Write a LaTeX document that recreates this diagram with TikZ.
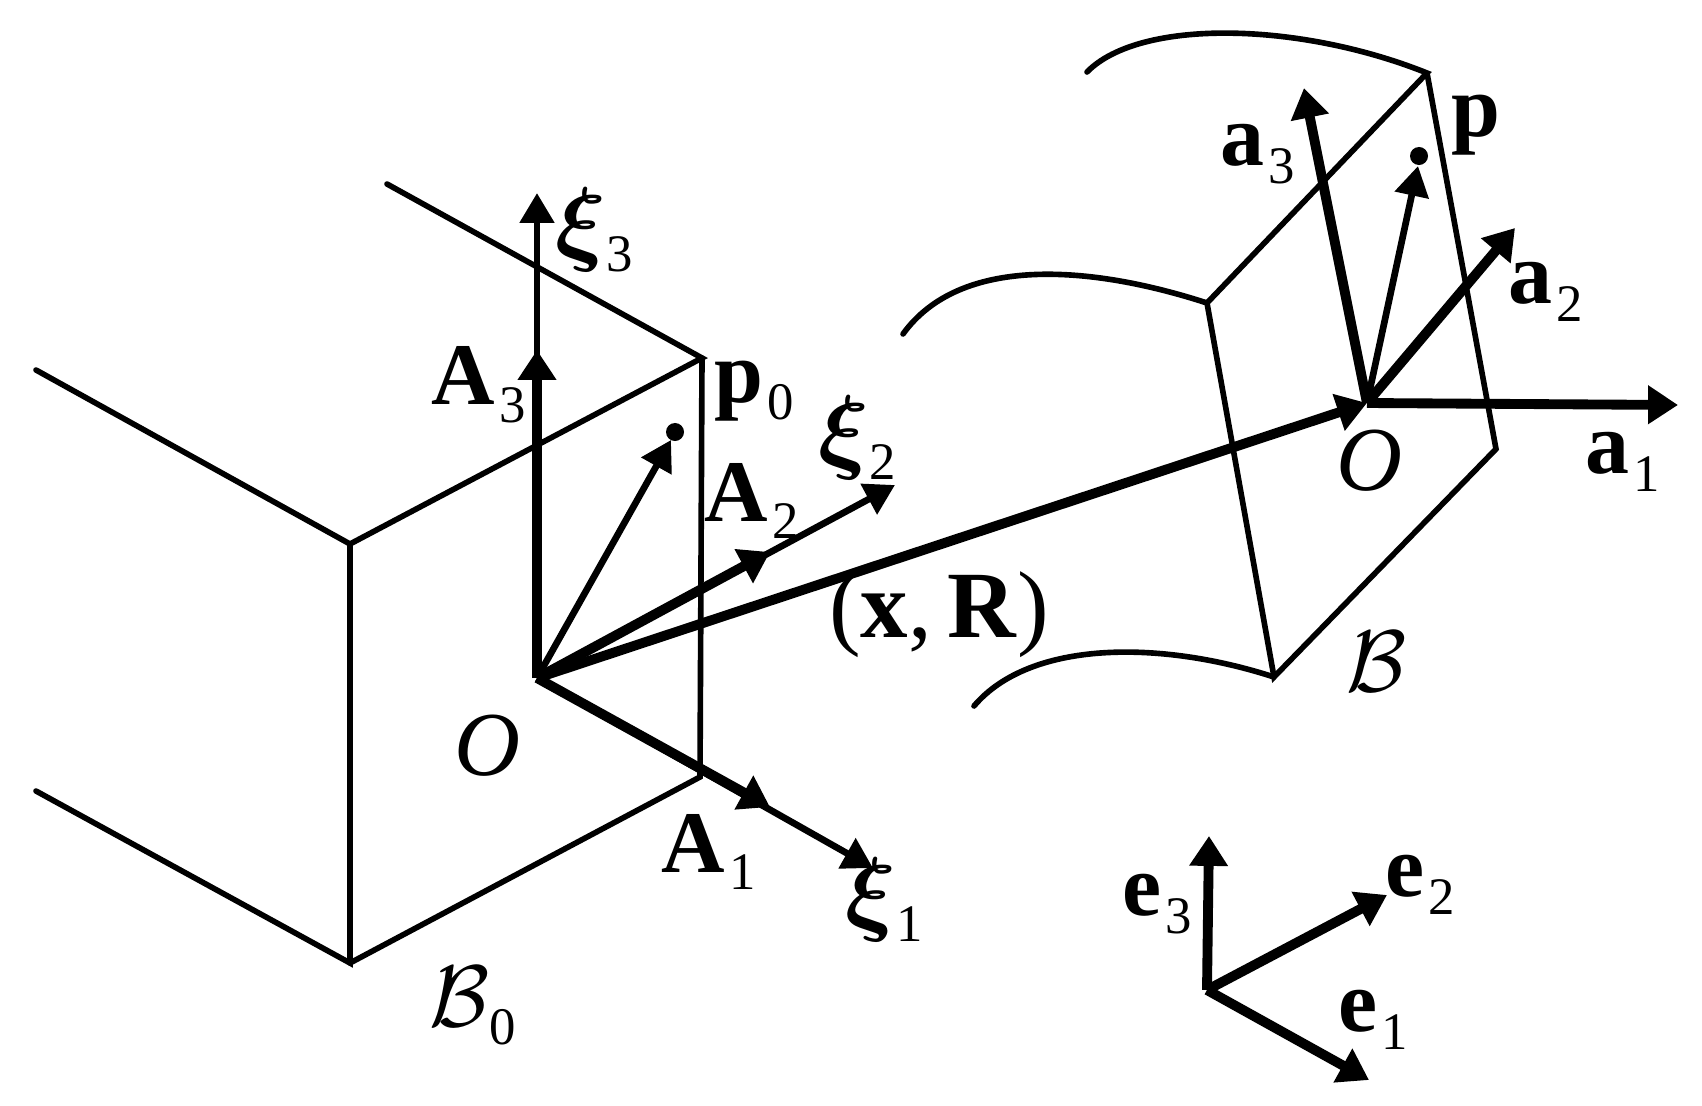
\documentclass[tikz,border=0pt]{standalone}
\usepackage{amsmath}
\usepackage{fontspec}
\setmainfont{Liberation Serif}
\usetikzlibrary{arrows.meta}
\newcommand{\vlab}[2]{\textbf{#1}\kern1.2pt\raisebox{-5pt}{\fontsize{15}{15}\selectfont #2}}
\newcommand{\xilab}[1]{\scalebox{1.08}{$\boldsymbol{\xi}$}\raisebox{-5pt}{\fontsize{15}{15}\selectfont #1}}
\begin{document}
\begin{tikzpicture}[x=0.01cm,y=-0.01cm,
	every node/.style={inner sep=0,outer sep=0,font=\fontsize{25}{25}\selectfont},
	wire/.style={line width=1.6pt,line cap=round},
	thin arrow/.style={line width=1.9pt,-{Triangle[length=8.5pt,width=9.5pt]}},
	thick arrow/.style={line width=2.8pt,-{Triangle[length=8.5pt,width=10.5pt]}}]
	\useasboundingbox (0,0) rectangle (1702,1106);
	% reference body
	\coordinate (p0) at (702,358);
	\coordinate (back) at (387,184);
	\coordinate (front) at (350,544);
	\coordinate (lefttop) at (36,370);
	\coordinate (base) at (350,963);
	\coordinate (leftbase) at (36,791);
	\coordinate (rightbase) at (700,777);
	\coordinate (orig) at (537,678);
	\coordinate (xi1) at (873,868);
	\coordinate (xi2) at (895,485);
	\coordinate (xi3) at (537,193);
	\coordinate (bA1) at (770,807);
	\coordinate (bA2) at (770,552);
	\coordinate (bA3) at (537,350);
	\coordinate (tip0) at (671,440);
	% current body
	\coordinate (cA) at (1427,73);
	\coordinate (cB) at (1207,303);
	\coordinate (cC) at (1496,449);
	\coordinate (cD) at (1274,677);
	\coordinate (cfree1) at (1087,72);
	\coordinate (cfree2) at (903,334);
	\coordinate (cfree3) at (974,706);
	\coordinate (orig2) at (1367,403);
	\coordinate (ta1) at (1678,405);
	\coordinate (ta2) at (1515,228);
	\coordinate (ta3) at (1304,88);
	\coordinate (tip1) at (1418,166);
	% fixed frame
	\coordinate (eorig) at (1207,990);
	\coordinate (e1) at (1369,1080);
	\coordinate (e2) at (1387,895);
	\coordinate (e3) at (1209,836);

	\draw[wire] (back) -- (p0) -- (front) -- (lefttop);
	\draw[wire] (front) -- (base) -- (leftbase);
	\draw[wire] (base) -- (rightbase) -- (p0);
	\draw[wire] (cfree1) .. controls (1140,18) and (1300,22) .. (cA) -- (cB) -- (cD) -- (cC) -- (cA);
	\draw[wire] (cfree2) .. controls (960,255) and (1090,265) .. (cB);
	\draw[wire] (cfree3) .. controls (1030,640) and (1160,640) .. (cD);

	\path[thin arrow]
		(orig) edge (xi3)
		(orig) edge (xi1)
		(orig) edge (xi2)
		(orig) edge (tip0)
		(orig2) edge (tip1);
	\path[thick arrow]
		(orig) edge (bA3)
		(orig) edge (bA1)
		(orig) edge (bA2)
		(orig) edge (orig2)
		(orig2) edge (ta1)
		(orig2) edge (ta2)
		(orig2) edge (ta3)
		(eorig) edge (e1)
		(eorig) edge (e2)
		(eorig) edge (e3);

	\node (dot0) [circle,fill,minimum size=0.18cm] at (675,432) {};
	\node (dot1) [circle,fill,minimum size=0.18cm] at (1419,156) {};

	\node (lxi3) at (594,230) {\xilab{3}};
	\node (lA3) at (479,385) {\vlab{A}{3}};
	\node (lp0) at (754,391) {\vlab{p}{0}};
	\node (lxi2) at (857,438) {\xilab{2}};
	\node (lA2) at (752,501) {\vlab{A}{2}};
	\node (lxR) at (939,615) {\fontsize{27}{27}\selectfont(\textbf{x},\,\textbf{R})};
	\node (lO) at (488,746) {\fontsize{26}{26}\selectfont\textit{O}};
	\node (lA1) at (709,852) {\vlab{A}{1}};
	\node (lxi1) at (884,900) {\xilab{1}};
	\node (lB0) at (473,1006) {\fontsize{27}{27}\selectfont$\mathcal{B}$\raisebox{-5pt}{\fontsize{15}{15}\selectfont 0}};
	\node (lB) at (1377,662) {\fontsize{27}{27}\selectfont$\mathcal{B}$};
	\node (lO2) at (1370,461) {\fontsize{26}{26}\selectfont\textit{O}};
	\node (la1) at (1623,462) {\vlab{a}{1}};
	\node (la2) at (1546,292) {\vlab{a}{2}};
	\node (la3) at (1258,154) {\vlab{a}{3}};
	\node (lp) at (1476,125) {\textbf{p}};
	\node (le3) at (1157,904) {\vlab{e}{3}};
	\node (le2) at (1420,885) {\vlab{e}{2}};
	\node (le1) at (1373,1020) {\vlab{e}{1}};
\end{tikzpicture}
\end{document}
